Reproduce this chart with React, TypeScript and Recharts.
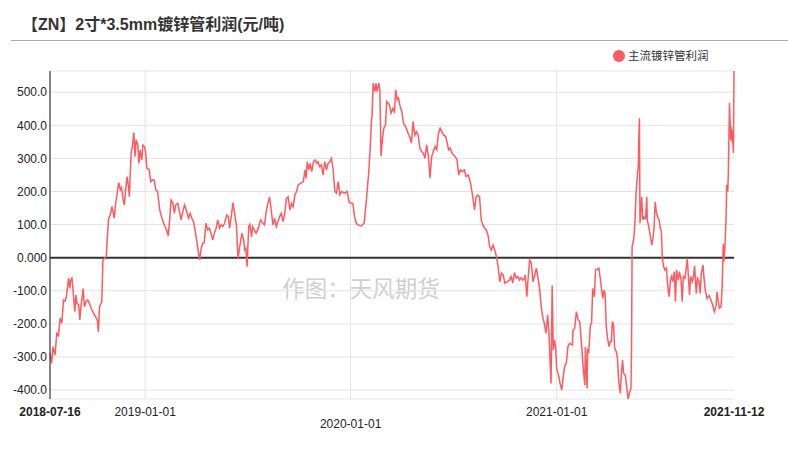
import React from 'react';
import { LineChart, Line, XAxis, YAxis, CartesianGrid, ReferenceLine } from 'recharts';

const TITLE = '【ZN】2寸*3.5mm镀锌管利润(元/吨)';
const SERIES_NAME = '主流镀锌管利润';
const WATERMARK = '作图：天风期货';

const startDate = '2018-07-16';
const endDate = '2021-11-12';
const yearTicks = ['2019-01-01', '2020-01-01', '2021-01-01'];
const yTicks = [-400, -300, -200, -100, 0, 100, 200, 300, 400, 500];

const points2018: [string, number][] = [
  ['07-16', -289], ['07-19', -319], ['07-21', -269], ['07-25', -294], ['07-28', -229], ['07-31', -236],
  ['08-03', -183], ['08-06', -198], ['08-09', -128], ['08-12', -131], ['08-14', -118], ['08-18', -62],
  ['08-20', -93], ['08-22', -67], ['08-24', -62], ['08-26', -98], ['08-29', -163], ['08-31', -113],
  ['09-02', -138], ['09-05', -143], ['09-07', -188], ['09-09', -148], ['09-13', -93], ['09-15', -148],
  ['09-18', -133], ['09-21', -128], ['09-24', -138], ['09-27', -153], ['10-03', -173], ['10-08', -188],
  ['10-10', -224], ['10-12', -148], ['10-16', -133], ['10-18', -7], ['10-21', -2], ['10-24', 3],
  ['10-25', 38], ['10-28', 119], ['10-31', 129], ['11-03', 154], ['11-05', 139], ['11-07', 119],
  ['11-10', 169], ['11-12', 190], ['11-15', 227], ['11-18', 205], ['11-20', 212], ['11-23', 174],
  ['11-25', 159], ['11-27', 199], ['11-30', 245], ['12-02', 220], ['12-04', 184], ['12-07', 316],
  ['12-09', 331], ['12-12', 378], ['12-14', 305], ['12-16', 356], ['12-19', 340], ['12-21', 285],
  ['12-23', 325], ['12-26', 295], ['12-28', 340], ['12-31', 335],
];

const points2019: [string, number][] = [
  ['01-02', 316], ['01-04', 270], ['01-08', 267], ['01-11', 230], ['01-14', 235], ['01-17', 235],
  ['01-20', 205], ['01-23', 200], ['01-27', 144], ['01-30', 124], ['02-04', 99], ['02-08', 84],
  ['02-11', 66], ['02-14', 124], ['02-16', 174], ['02-19', 166], ['02-22', 134], ['02-24', 159],
  ['02-28', 164], ['03-03', 139], ['03-06', 114], ['03-09', 139], ['03-12', 159], ['03-15', 144],
  ['03-19', 119], ['03-22', 134], ['03-25', 119], ['03-28', 109], ['03-31', 79], ['04-03', 48],
  ['04-05', 23], ['04-08', -7], ['04-10', 23], ['04-13', 43], ['04-16', 45], ['04-19', 104],
  ['04-22', 84], ['04-25', 89], ['04-28', 74], ['05-01', 54], ['05-04', 74], ['05-07', 89],
  ['05-10', 114], ['05-13', 89], ['05-16', 99], ['05-19', 94], ['05-22', 104], ['05-26', 129],
  ['05-29', 124], ['05-31', 89], ['06-03', 124], ['06-06', 166], ['06-09', 134], ['06-12', 99],
  ['06-15', -2], ['06-18', 33], ['06-22', 74], ['06-25', 54], ['06-27', 23], ['06-29', 28],
  ['07-01', -27], ['07-04', 94], ['07-06', 101], ['07-09', 63], ['07-11', 94], ['07-13', 86],
  ['07-17', 74], ['07-20', 84], ['07-25', 114], ['07-29', 104], ['08-01', 99], ['08-04', 139],
  ['08-07', 164], ['08-10', 183], ['08-13', 144], ['08-16', 99], ['08-19', 119], ['08-22', 94],
  ['08-25', 109], ['08-28', 124], ['08-31', 134], ['09-03', 109], ['09-06', 134], ['09-09', 179],
  ['09-12', 184], ['09-15', 144], ['09-18', 164], ['09-21', 154], ['09-24', 190], ['09-27', 200],
  ['09-30', 220], ['10-05', 225], ['10-09', 230], ['10-12', 265], ['10-14', 240], ['10-16', 290],
  ['10-19', 265], ['10-21', 285], ['10-24', 260], ['10-27', 290], ['10-30', 295], ['11-02', 285],
  ['11-04', 290], ['11-07', 275], ['11-10', 280], ['11-13', 250], ['11-16', 290], ['11-19', 265],
  ['11-22', 285], ['11-25', 290], ['11-28', 300], ['12-01', 265], ['12-04', 200], ['12-07', 195],
  ['12-10', 230], ['12-13', 190], ['12-16', 200], ['12-21', 195], ['12-26', 200], ['12-29', 169],
];

const points2020: [string, number][] = [
  ['01-02', 164], ['01-05', 164], ['01-08', 124], ['01-11', 104], ['01-14', 99], ['01-20', 96],
  ['01-25', 104], ['01-29', 174], ['02-02', 255], ['02-05', 336], ['02-07', 416], ['02-08', 426],
  ['02-10', 527], ['02-13', 502], ['02-15', 527], ['02-17', 502], ['02-20', 527], ['02-22', 507],
  ['02-24', 307], ['02-27', 366], ['02-29', 391], ['03-03', 401], ['03-05', 472], ['03-07', 467],
  ['03-10', 462], ['03-13', 437], ['03-16', 451], ['03-19', 441], ['03-21', 507], ['03-24', 477],
  ['03-26', 482], ['03-29', 457], ['04-01', 441], ['04-04', 406], ['04-09', 391], ['04-12', 376],
  ['04-15', 366], ['04-18', 346], ['04-21', 411], ['04-24', 371], ['04-27', 381], ['04-30', 371],
  ['05-03', 331], ['05-06', 321], ['05-09', 316], ['05-12', 300], ['05-15', 341], ['05-18', 310],
  ['05-21', 240], ['05-24', 305], ['05-27', 321], ['05-30', 336], ['06-02', 326], ['06-05', 376],
  ['06-08', 391], ['06-11', 381], ['06-14', 371], ['06-18', 366], ['06-23', 326], ['06-26', 331],
  ['06-29', 316], ['07-02', 310], ['07-05', 305], ['07-08', 296], ['07-11', 250], ['07-14', 265],
  ['07-17', 260], ['07-21', 265], ['07-24', 245], ['07-28', 250], ['08-01', 225], ['08-05', 184],
  ['08-08', 144], ['08-11', 184], ['08-14', 189], ['08-17', 184], ['08-20', 114], ['08-23', 99],
  ['08-26', 89], ['08-29', 84], ['09-01', 69], ['09-04', 33], ['09-07', 23], ['09-10', 38],
  ['09-13', 23], ['09-16', 3], ['09-19', -27], ['09-22', -73], ['09-25', -47], ['09-28', -52],
  ['10-01', -77], ['10-05', -73], ['10-09', -68], ['10-12', -57], ['10-15', -77], ['10-18', -45],
  ['10-21', -62], ['10-24', -57], ['10-27', -68], ['10-30', -60], ['11-02', -68], ['11-05', -62],
  ['11-06', -52], ['11-09', -118], ['11-11', -68], ['11-14', -7], ['11-17', -17], ['11-20', -73],
  ['11-23', -52], ['11-26', -32], ['11-29', -62], ['12-02', -98], ['12-04', -138], ['12-07', -178],
  ['12-10', -198], ['12-13', -229], ['12-16', -173], ['12-18', -219], ['12-20', -299], ['12-22', -380],
  ['12-24', -83], ['12-26', -279], ['12-28', -249], ['12-30', -269],
];

const points2021: [string, number][] = [
  ['01-01', -334], ['01-05', -360], ['01-07', -380], ['01-10', -400], ['01-12', -370], ['01-15', -329],
  ['01-18', -319], ['01-21', -269], ['01-24', -259], ['01-29', -264], ['01-30', -219], ['02-02', -214],
  ['02-05', -163], ['02-08', -188], ['02-11', -193], ['02-14', -259], ['02-17', -330], ['02-20', -385],
  ['02-21', -269], ['02-24', -395], ['02-25', -279], ['02-27', -284], ['03-02', -203], ['03-04', -198],
  ['03-06', -93], ['03-09', -118], ['03-11', -37], ['03-14', -35], ['03-17', -32], ['03-19', -57],
  ['03-22', -98], ['03-24', -123], ['03-26', -98], ['03-28', -108], ['03-30', -203], ['04-01', -239],
  ['04-04', -269], ['04-06', -254], ['04-08', -254], ['04-10', -193], ['04-12', -203], ['04-14', -274],
  ['04-17', -284], ['04-19', -304], ['04-21', -370], ['04-24', -410], ['04-26', -350], ['04-28', -309],
  ['04-30', -350], ['05-03', -355], ['05-06', -400], ['05-08', -427], ['05-10', -410], ['05-13', -395],
  ['05-14', -279], ['05-15', 33], ['05-18', 59], ['05-19', 79], ['05-20', 104], ['05-22', 195],
  ['05-23', 215], ['05-25', 260], ['05-26', 275], ['05-27', 366], ['05-28', 421], ['05-29', 104],
  ['05-31', 154], ['06-01', 184], ['06-03', 114], ['06-04', 124], ['06-06', 119], ['06-08', 119],
  ['06-10', 184], ['06-11', 114], ['06-14', 89], ['06-16', 69], ['06-19', 38], ['06-21', 59],
  ['06-23', 89], ['06-25', 169], ['06-27', 139], ['06-29', 124], ['07-02', 114], ['07-04', 89],
  ['07-06', 79], ['07-08', -7], ['07-10', -27], ['07-12', -37], ['07-15', -32], ['07-16', -57],
  ['07-18', -98], ['07-20', -118], ['07-22', -67], ['07-24', -57], ['07-26', -72], ['07-29', -42],
  ['07-31', -133], ['08-02', -37], ['08-05', -67], ['08-07', -42], ['08-10', -67], ['08-12', -133],
  ['08-14', -57], ['08-17', -62], ['08-19', -32], ['08-21', -2], ['08-23', -57], ['08-25', -113],
  ['08-27', -57], ['08-30', -72], ['09-01', -57], ['09-03', -25], ['09-06', -108], ['09-08', -62],
  ['09-11', -72], ['09-13', -108], ['09-15', -47], ['09-18', -22], ['09-20', -67], ['09-22', -98],
  ['09-25', -123], ['09-27', -118], ['09-29', -115], ['10-02', -128], ['10-05', -143], ['10-08', -163],
  ['10-11', -148], ['10-13', -103], ['10-15', -133], ['10-17', -153], ['10-20', -148], ['10-22', -88],
  ['10-24', 43], ['10-25', -12], ['10-27', 33], ['10-29', 124], ['10-30', 220], ['11-01', 200],
  ['11-02', 260], ['11-04', 467], ['11-06', 356], ['11-07', 396], ['11-08', 351], ['11-09', 386],
  ['11-11', 316], ['11-12', 564],
];

const toTs = (s: string) => Date.parse(s + 'T00:00:00Z');
const fmtDate = (t: number) => new Date(t).toISOString().slice(0, 10);

const byYear: [string, [string, number][]][] = [
  ['2018', points2018],
  ['2019', points2019],
  ['2020', points2020],
  ['2021', points2021],
];

const data = byYear.flatMap(([year, pts]) =>
  pts.map(([md, v]) => ({ t: toTs(`${year}-${md}`), v }))
);

const xTicks = [toTs(startDate), ...yearTicks.map(toTs), toTs(endDate)];

const FONT = '"Liberation Sans", Arial, "Noto Sans CJK SC", sans-serif';
const LINE_COLOR = '#ff5a5f';

const XTick = (props: any) => {
  const { x, y, payload } = props;
  const label = fmtDate(payload.value);
  const bold = label === startDate || label === endDate;
  const low = label === '2020-01-01';
  return (
    <text
      x={x}
      y={y + (low ? 28.5 : 17)}
      textAnchor="middle"
      fontSize={12}
      fontFamily={FONT}
      fontWeight={bold ? 'bold' : 'normal'}
      fill="#222"
    >
      {label}
    </text>
  );
};

export default function App() {
  return (
    <div style={{ position: 'absolute', left: 0, top: 0, width: 788, height: 460, background: '#fff' }}>
      <svg width={788} height={460} style={{ position: 'absolute', left: 0, top: 0 }}>
        <text x={22} y={30} fontSize={16} fontWeight="bold" fontFamily={FONT} fill="#333">
          {TITLE}
        </text>
        <line x1={11} x2={788} y1={40.5} y2={40.5} stroke="#aaa" strokeWidth={1} />
        <circle cx={619} cy={56} r={6} fill={LINE_COLOR} />
        <text x={628} y={60} fontSize={11.5} fontFamily={FONT} fill="#333">
          {SERIES_NAME}
        </text>
        <text x={361} y={297} textAnchor="middle" fontSize={22.5} fontFamily='"Noto Sans CJK SC", sans-serif' fill="#cfcfcf">
          {WATERMARK}
        </text>
      </svg>
      <div style={{ position: 'absolute', left: 0, top: 0 }}>
        <LineChart width={788} height={460} data={data} margin={{ top: 71, right: 54, bottom: 0, left: 0 }}>
          <CartesianGrid vertical={false} stroke="#e3e3e3" />
          {yearTicks.map((d) => (
            <ReferenceLine key={d} x={toTs(d)} stroke="#e3e3e3" strokeWidth={1} />
          ))}
          <XAxis
            dataKey="t"
            type="number"
            scale="time"
            domain={[toTs(startDate), toTs(endDate)]}
            ticks={xTicks}
            interval={0}
            tick={<XTick />}
            tickLine={false}
            axisLine={false}
            tickSize={0}
            tickMargin={0}
            height={61}
          />
          <YAxis
            type="number"
            domain={['dataMin', 'dataMax']}
            ticks={yTicks}
            interval={0}
            width={50}
            tickFormatter={(v: number) => (v === 0 ? '0.000' : v.toFixed(1))}
            tick={{ fontSize: 12, fontFamily: FONT, fill: '#222' }}
            tickLine={false}
            tickSize={0}
            tickMargin={3}
            axisLine={{ stroke: '#333', strokeWidth: 1.2 }}
          />
          <ReferenceLine y={0} stroke="#333" strokeWidth={2} />
          <Line
            type="linear"
            dataKey="v"
            name={SERIES_NAME}
            stroke={LINE_COLOR}
            strokeWidth={1.5}
            dot={false}
            activeDot={false}
            isAnimationActive={false}
          />
        </LineChart>
      </div>
    </div>
  );
}
